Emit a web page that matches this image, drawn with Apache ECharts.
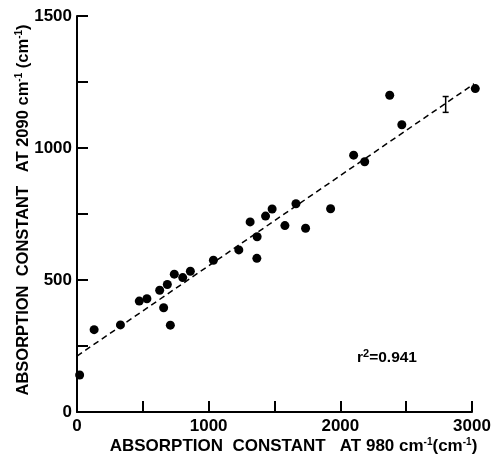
<!DOCTYPE html>
<html>
<head>
<meta charset="utf-8">
<script src="https://cdn.jsdelivr.net/npm/echarts@6/dist/echarts.min.js"></script>
<style>
  html, body { margin: 0; padding: 0; background: #fff; }
  #chart { width: 492px; height: 454px; }
</style>
</head>
<body>
<div id="chart"></div>
<script>
  // measured points
  var xVals = [20, 130, 330, 473, 531, 628, 658, 686, 709, 739, 803, 861, 1036, 1229, 1315, 1366, 1368, 1432, 1482, 1579, 1663, 1736, 1926, 2101, 2185, 2375, 2467, 3025]
  var yVals = [140, 312, 330, 420, 429, 461, 395, 483, 329, 522, 509, 533, 575, 614, 720, 582, 664, 742, 769, 706, 789, 696, 770, 973, 948, 1200, 1088, 1225]
  // dashed fit line ends
  var fitX = [0, 3060]
  var fitY = [212, 1258]
  // error bar: x, low, high
  var errX = [2800]
  var errLow = [1135]
  var errHigh = [1195]
  var xTicks = [0, 1000, 2000, 3000]
  var yTicks = [0, 500, 1000, 1500]

  var font = '"Liberation Sans", Arial, sans-serif'
  var points = xVals.map(function (x, i) { return [x, yVals[i]] })
  var fit = fitX.map(function (x, i) { return [x, fitY[i]] })
  var errs = errX.map(function (x, i) { return [x, errLow[i], errHigh[i]] })

  function nameRich(size) {
    return {
      b: { fontFamily: font, fontWeight: 'bold', fontSize: size, color: '#000' },
      s: { fontFamily: font, fontWeight: 'bold', fontSize: 10, color: '#000', verticalAlign: 'top', padding: [0, 0, 9, 0] }
    }
  }

  var mychart = echarts.init(document.getElementById('chart'))
  var option = {
    backgroundColor: '#fff',
    animation: false,
    grid: { left: 77, right: 20, top: 16, bottom: 42, outerBoundsMode: 'none', containLabel: false },
    xAxis: {
      type: 'value',
      min: xTicks[0],
      max: xTicks[xTicks.length - 1],
      interval: 1000,
      splitLine: { show: false },
      axisLine: { lineStyle: { color: '#000', width: 2 } },
      axisTick: { inside: true, length: 11, lineStyle: { color: '#000', width: 2 } },
      minorTick: { show: true, splitNumber: 2, length: 11, lineStyle: { color: '#000', width: 2 } },
      axisLabel: {
        margin: 6, color: '#000', fontFamily: font, fontWeight: 'bold', fontSize: 17,
        formatter: function (v) { return String(v) }
      },
      name: '{b|ABSORPTION  CONSTANT   AT 980 cm}{s|-1}{b|(cm}{s|-1}{b|)}',
      nameLocation: 'middle',
      nameMoveOverlap: false,
      nameGap: 25,
      nameTextStyle: { padding: [0, 0, 0, 38], rich: nameRich(17) }
    },
    yAxis: {
      type: 'value',
      min: yTicks[0],
      max: yTicks[yTicks.length - 1],
      interval: 500,
      splitLine: { show: false },
      axisLine: { lineStyle: { color: '#000', width: 2 } },
      axisTick: { inside: true, length: 11, lineStyle: { color: '#000', width: 2 } },
      minorTick: { show: true, splitNumber: 2, length: 11, lineStyle: { color: '#000', width: 2 } },
      axisLabel: {
        margin: 5, color: '#000', fontFamily: font, fontWeight: 'bold', fontSize: 17,
        formatter: function (v) { return String(v) }
      },
      name: '{b|ABSORPTION  CONSTANT   AT 2090 cm}{s|-1}{b| (cm}{s|-1}{b|)}',
      nameLocation: 'middle',
      nameMoveOverlap: false,
      nameRotate: 90,
      nameGap: 44,
      nameTextStyle: { padding: [0, 0, 0, 8], rich: nameRich(16.5) }
    },
    graphic: [{
      type: 'text',
      left: 357,
      top: 348,
      style: {
        text: '{a|r}{s|2}{a|=0.941}',
        rich: {
          a: { fontFamily: font, fontWeight: 'bold', fontSize: 15.5, fill: '#000' },
          s: { fontFamily: font, fontWeight: 'bold', fontSize: 11, fill: '#000', verticalAlign: 'top', padding: [0, 0, 8, 0] }
        }
      }
    }],
    series: [
      {
        type: 'line',
        data: fit,
        symbol: 'none',
        clip: false,
        lineStyle: { color: '#000', width: 1.5, type: [6, 4] },
        z: 1
      },
      {
        type: 'scatter',
        data: points,
        symbol: 'circle',
        symbolSize: 9,
        clip: false,
        itemStyle: { color: '#000', opacity: 1 },
        z: 3
      },
      {
        type: 'custom',
        data: errs,
        clip: false,
        renderItem: function (params, api) {
          var lo = api.coord([api.value(0), api.value(1)])
          var hi = api.coord([api.value(0), api.value(2)])
          var w = 3
          var st = { stroke: '#000', lineWidth: 1.5 }
          return {
            type: 'group',
            children: [
              { type: 'line', shape: { x1: lo[0], y1: lo[1], x2: hi[0], y2: hi[1] }, style: st },
              { type: 'line', shape: { x1: lo[0] - w, y1: lo[1], x2: lo[0] + w, y2: lo[1] }, style: st },
              { type: 'line', shape: { x1: hi[0] - w, y1: hi[1], x2: hi[0] + w, y2: hi[1] }, style: st }
            ]
          }
        },
        z: 4
      }
    ]
  }
  mychart.setOption(option)
</script>
</body>
</html>
